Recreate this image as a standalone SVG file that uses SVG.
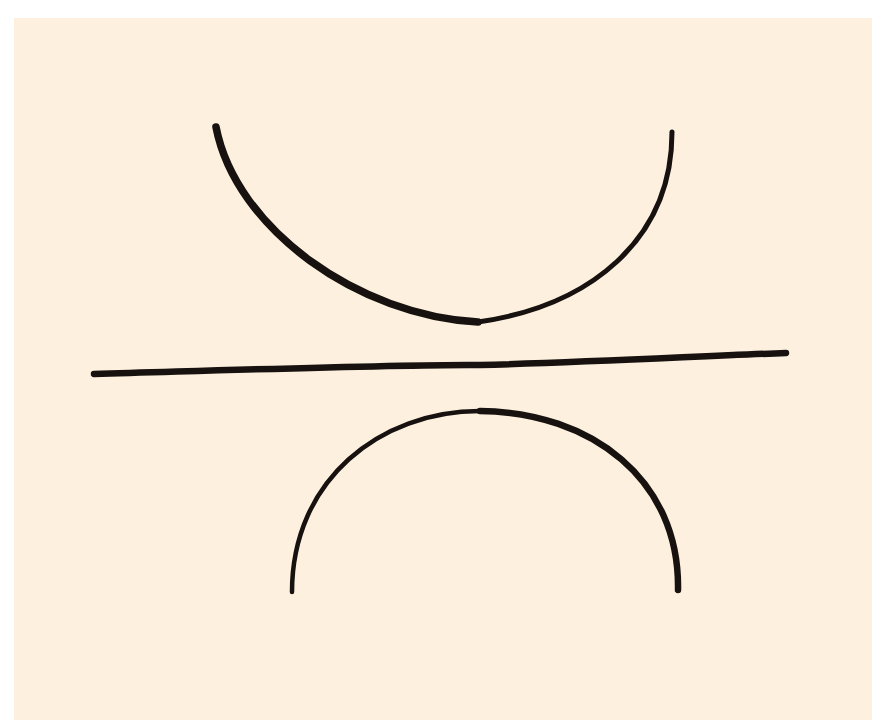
<svg xmlns="http://www.w3.org/2000/svg" width="876" height="724" viewBox="0 0 876 724">
<style>
.ink{fill:none;stroke:#17120f;stroke-linecap:round;stroke-linejoin:round}
</style>
<rect x="0" y="0" width="876" height="724" fill="#ffffff"/>
<rect x="14" y="18" width="858" height="702" fill="#fdf0de"/>
<g id="top-arc">
<path class="ink" stroke-width="7.5" d="M216,127 C236,230 360,316 478,322"/>
<path class="ink" stroke-width="5" d="M478,322 C590,306 672,240 672,132"/>
</g>
<g id="line">
<path class="ink" stroke-width="6.5" d="M94,374 C300,368 420,364 480,365 C600,362 700,356 786,353"/>
</g>
<g id="bottom-arc">
<path class="ink" stroke-width="4.5" d="M292,592 C292,480 380,411 480,411"/>
<path class="ink" stroke-width="6.5" d="M480,411 C592,412 680,480 678,590"/>
</g>
</svg>
